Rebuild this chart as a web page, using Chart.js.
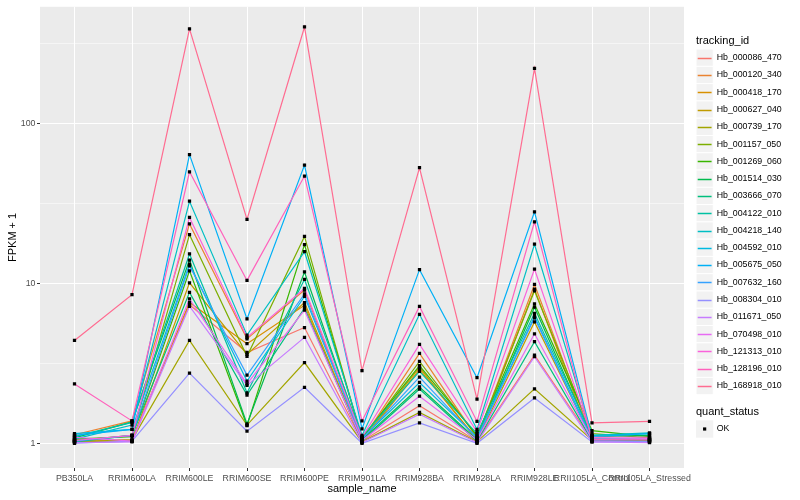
<!DOCTYPE html>
<html>
<head>
<meta charset="utf-8">
<script src="https://cdn.jsdelivr.net/npm/chart.js@4"></script>
<style>
  html, body { margin: 0; padding: 0; background: #ffffff; }
  #wrap { width: 800px; height: 500px; }
</style>
</head>
<body>
<div id="wrap"><canvas id="myChart" width="800" height="500"></canvas></div>
<script>
let categories = ['PB350LA', 'RRIM600LA', 'RRIM600LE', 'RRIM600SE', 'RRIM600PE', 'RRIM901LA',
  'RRIM928BA', 'RRIM928LA', 'RRIM928LE', 'RRII105LA_Control', 'RRII105LA_Stressed'];
let trackingIds = ['Hb_000086_470', 'Hb_000120_340', 'Hb_000418_170', 'Hb_000627_040', 'Hb_000739_170',
  'Hb_001157_050', 'Hb_001269_060', 'Hb_001514_030', 'Hb_003666_070', 'Hb_004122_010',
  'Hb_004218_140', 'Hb_004592_010', 'Hb_005675_050', 'Hb_007632_160', 'Hb_008304_010',
  'Hb_011671_050', 'Hb_070498_010', 'Hb_121313_010', 'Hb_128196_010', 'Hb_168918_010'];
let colorHex = ['#F8766D', '#EA8331', '#D89000', '#C09B00', '#A3A500', '#7CAE00', '#39B600', '#00BB4E',
  '#00BF7D', '#00C1A3', '#00BFC4', '#00BAE0', '#00B0F6', '#35A2FF', '#9590FF', '#C77CFF',
  '#E76BF3', '#FA62DB', '#FF62BC', '#FF6C91'];
let yLabels = [1, 10, 100];
let quantStatus = ['OK'];

// FPKM + 1, one value per sample_name
let hb000086 = [1.05, 1.05, 7.35, 3.7, 5.3, 1.03, 1.72, 1.03, 3.56, 1.05, 1.06];
let hb000120 = [1.13, 1.38, 23.6, 4.5, 9.1, 1.05, 3.65, 1.08, 9.86, 1.08, 1.05];
let hb000418 = [1.03, 1.04, 7.6, 4.2, 7.3, 1.02, 2.9, 1.06, 9.2, 1.03, 1.04];
let hb000627 = [1.02, 1.03, 10.1, 3.6, 7.6, 1.04, 3.0, 1.04, 5.74, 1.06, 1.03];
let hb000739 = [1.02, 1.05, 4.4, 1.3, 3.2, 1.02, 1.56, 1.02, 2.19, 1.05, 1.03];
let hb001157 = [1.04, 1.12, 20.2, 3.5, 19.7, 1.06, 3.25, 1.1, 9.0, 1.15, 1.08];
let hb001269 = [1.06, 1.1, 12.0, 1.29, 17.5, 1.08, 3.06, 1.12, 7.45, 1.2, 1.1];
let hb001514 = [1.08, 1.36, 14.0, 1.32, 11.8, 1.05, 2.25, 1.05, 7.1, 1.1, 1.12];
let hb003666 = [1.02, 1.12, 8.8, 2.0, 7.0, 1.03, 2.18, 1.03, 4.32, 1.04, 1.05];
let hb004122 = [1.1, 1.35, 15.3, 2.07, 10.6, 1.1, 2.82, 1.15, 6.5, 1.12, 1.15];
let hb004218 = [1.06, 1.3, 32.7, 4.75, 15.8, 1.12, 6.41, 1.22, 17.6, 1.12, 1.16];
let hb004592 = [1.15, 1.22, 13.2, 2.45, 8.3, 1.07, 2.4, 1.09, 6.2, 1.07, 1.06];
let hb005675 = [1.12, 1.22, 64, 6.0, 55, 1.23, 12.2, 2.57, 28.1, 1.1, 1.15];
let hb007632 = [1.03, 1.12, 12.9, 2.67, 8.6, 1.06, 2.59, 1.07, 6.1, 1.04, 1.02];
let hb008304 = [1.0, 1.03, 2.75, 1.19, 2.24, 1.0, 1.34, 1.0, 1.92, 1.02, 1.02];
let hb011671 = [1.01, 1.02, 7.2, 2.3, 4.6, 1.01, 1.52, 1.01, 3.48, 1.02, 1.01];
let hb070498 = [1.09, 1.03, 8.0, 2.35, 6.8, 1.04, 1.97, 1.05, 4.84, 1.06, 1.07];
let hb121313 = [1.04, 1.12, 25.9, 4.6, 9.3, 1.09, 4.16, 1.18, 12.3, 1.09, 1.09];
let hb128196 = [2.35, 1.38, 50, 10.45, 47, 1.38, 7.18, 1.37, 24.3, 1.05, 1.05];
let hb168918 = [4.4, 8.5, 392, 25.2, 403, 2.85, 53, 1.89, 222, 1.34, 1.37];

let seriesValues = [hb000086, hb000120, hb000418, hb000627, hb000739, hb001157, hb001269, hb001514,
  hb003666, hb004122, hb004218, hb004592, hb005675, hb007632, hb008304, hb011671, hb070498,
  hb121313, hb128196, hb168918];

Chart.defaults.font.family = "'Liberation Sans', Arial, Helvetica, sans-serif";

function toPoints(vals) {
  return vals.map((v, i) => ({ x: i, y: v }));
}

let datasets = [];
// lines first (ggplot draws first group at the bottom)
seriesValues.forEach((vals, k) => {
  datasets.push({
    label: trackingIds[k],
    data: toPoints(vals),
    borderColor: colorHex[k],
    borderWidth: 1.2,
    pointRadius: 0,
    showLine: true,
    fill: false,
    order: 100 - k
  });
});
// black squares on top of every line
seriesValues.forEach((vals, k) => {
  datasets.push({
    label: trackingIds[k] + ' OK',
    data: toPoints(vals),
    showLine: false,
    pointStyle: 'rect',
    pointRadius: 2.3,
    pointBackgroundColor: '#000000',
    pointBorderWidth: 0,
    order: 0
  });
});

function isMajor(v) {
  let l = Math.log10(v);
  return Math.abs(l - Math.round(l)) < 1e-6;
}

const panelBg = {
  id: 'panelBg',
  beforeDraw(chart) {
    const { ctx, chartArea: a } = chart;
    ctx.save();
    ctx.fillStyle = '#EBEBEB';
    ctx.fillRect(a.left, a.top, a.right - a.left, a.bottom - a.top);
    ctx.restore();
  }
};

const ggLegend = {
  id: 'ggLegend',
  afterDraw(chart) {
    const ctx = chart.ctx;
    const x0 = 696, key = 17.28, firstY = 57.7;
    ctx.save();
    ctx.textBaseline = 'middle';
    ctx.textAlign = 'left';
    ctx.fillStyle = '#000000';
    ctx.font = "11px 'Liberation Sans', Arial, sans-serif";
    ctx.fillText('tracking_id', x0, 40.7);
    trackingIds.forEach((id, i) => {
      let cy = firstY + i * key;
      ctx.fillStyle = '#F2F2F2';
      ctx.fillRect(x0, cy - key / 2, key, key);
      ctx.strokeStyle = '#FFFFFF';
      ctx.lineWidth = 1;
      ctx.strokeRect(x0, cy - key / 2, key, key);
      let ly = Math.round(cy) + 0.5;
      ctx.strokeStyle = colorHex[i];
      ctx.lineWidth = 1.5;
      ctx.beginPath();
      ctx.moveTo(x0 + 1.7, ly);
      ctx.lineTo(x0 + key - 1.7, ly);
      ctx.stroke();
      ctx.fillStyle = '#000000';
      ctx.font = "8.8px 'Liberation Sans', Arial, sans-serif";
      ctx.fillText(id, x0 + 20.7, cy);
    });
    ctx.font = "11px 'Liberation Sans', Arial, sans-serif";
    ctx.fillText('quant_status', x0, 412);
    quantStatus.forEach((s, i) => {
      let cy = 429 + i * key;
      ctx.fillStyle = '#F2F2F2';
      ctx.fillRect(x0, cy - key / 2, key, key);
      ctx.fillStyle = '#000000';
      ctx.fillRect(x0 + key / 2 - 1.6, cy - 1.6, 3.2, 3.2);
      ctx.font = "8.8px 'Liberation Sans', Arial, sans-serif";
      ctx.fillText(s, x0 + 20.7, cy);
    });
    ctx.restore();
  }
};

let ctx = document.getElementById('myChart').getContext('2d');
let myChart = new Chart(ctx, {
  type: 'line',
  data: { datasets: datasets },
  plugins: [panelBg, ggLegend],
  options: {
    responsive: false,
    animation: false,
    layout: { padding: { left: 0, right: 116, top: 5, bottom: 0 } },
    plugins: {
      legend: { display: false },
      tooltip: { enabled: false }
    },
    scales: {
      x: {
        type: 'linear',
        min: -0.6,
        max: 10.6,
        afterBuildTicks: (scale) => { scale.ticks = categories.map((c, i) => ({ value: i })); },
        afterFit: (scale) => { scale.height = 32; },
        ticks: {
          autoSkip: false,
          maxRotation: 0,
          minRotation: 0,
          padding: 2,
          color: '#4D4D4D',
          font: { size: 8.8 },
          callback: (v) => categories[v]
        },
        grid: { color: '#FFFFFF', lineWidth: 1, tickLength: 3, tickColor: '#333333' },
        border: { display: false },
        title: {
          display: true,
          text: 'sample_name',
          color: '#000000',
          font: { size: 11 },
          padding: { top: 0, bottom: 4.4 }
        }
      },
      y: {
        type: 'logarithmic',
        min: 0.741,
        max: 539,
        afterBuildTicks: (scale) => {
          scale.ticks = [1, Math.pow(10, 0.5), 10, Math.pow(10, 1.5), 100, Math.pow(10, 2.5)].map(v => ({ value: v }));
        },
        afterFit: (scale) => { scale.width = 40; },
        ticks: {
          autoSkip: false,
          padding: 1.5,
          color: '#4D4D4D',
          font: { size: 8.8 },
          callback: (v) => (yLabels.indexOf(Math.round(v)) >= 0 && isMajor(v)) ? String(Math.round(v)) : ''
        },
        grid: {
          color: '#FFFFFF',
          lineWidth: (c) => (c.tick && isMajor(c.tick.value)) ? 1 : 0.5,
          tickLength: 3,
          tickColor: (c) => (c.tick && isMajor(c.tick.value)) ? '#333333' : 'rgba(0,0,0,0)'
        },
        border: { display: false },
        title: {
          display: true,
          text: 'FPKM + 1',
          color: '#000000',
          font: { size: 11 },
          padding: { top: 6.1, bottom: 0 }
        }
      }
    }
  }
});
</script>
</body>
</html>
